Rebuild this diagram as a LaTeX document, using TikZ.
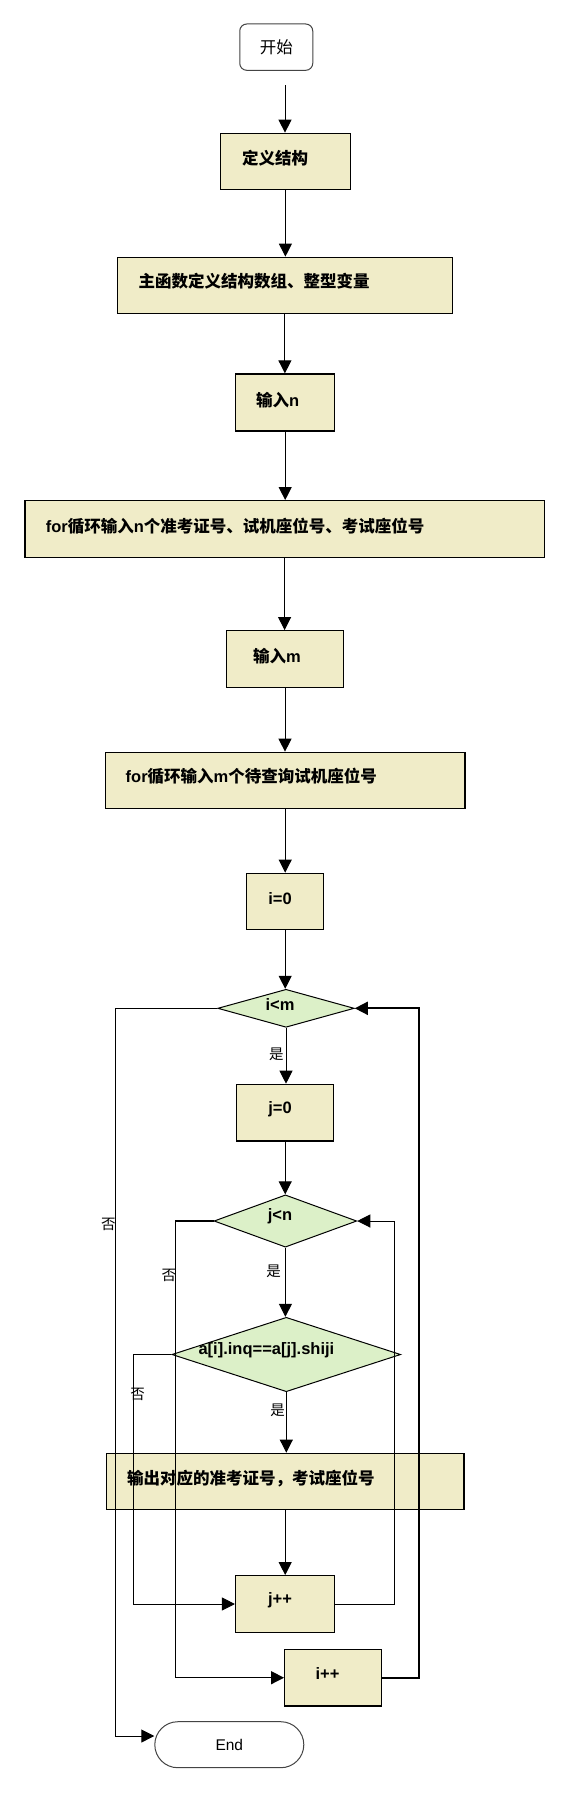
\documentclass[tikz,border=0pt]{standalone}
\usepackage{fontspec}
\setmainfont{Liberation Sans}
\newfontfamily\cjk{Noto Sans CJK SC}
\usetikzlibrary{arrows.meta,shapes.geometric}
\newcommand\zh[1]{{\cjk\bfseries #1}}
\newcommand\lb[1]{{\bfseries #1}}
\definecolor{boxfill}{HTML}{F0ECC8}
\definecolor{decfill}{HTML}{DCF0C8}
\definecolor{termline}{HTML}{444444}
\tikzset{
  procbox/.style={draw=black, line width=1.3pt, fill=boxfill, inner sep=0pt, rectangle},
  decbox/.style={draw=black, line width=1pt, fill=decfill, diamond, inner sep=0pt},
  termbox/.style={draw=termline, line width=1pt, fill=white, inner sep=0pt, rectangle},
  boxtext/.style={inner sep=0pt, font=\fontsize{16.5}{18}\selectfont},
  lbl/.style={inner sep=0pt, font=\fontsize{14.5}{16}\selectfont\cjk},
  flow/.style={draw=black, line width=1pt, -{Triangle[length=13pt,width=13pt]}},
  mid/.style={line width=1.3pt},
  heavy/.style={line width=1.7pt},
}
\begin{document}
\begin{tikzpicture}[x=1pt,y=-1pt]
\useasboundingbox (0,0) rectangle (573,1793);
% terminals
\node[termbox, rounded corners=7pt, minimum width=73pt, minimum height=46.3pt, font=\fontsize{16.5}{18}\selectfont\cjk] (start) at (276.25,47.15) {开始};
\node[termbox, rounded corners=23pt, minimum width=149pt, minimum height=46pt, font=\fontsize{15.5}{17}\selectfont] (end) at (229.3,1744.7) {End};
% process boxes
\node[procbox, minimum width=129.6pt, minimum height=56pt] (def) at (285.4,161.3) {};
\node[procbox, minimum width=334.8pt, minimum height=56pt] (main) at (284.9,285.3) {};
\node[procbox, minimum width=99.2pt, minimum height=57pt] (inn) at (285.2,402.5) {};
\node[procbox, minimum width=519.4pt, minimum height=56.6pt] (forn) at (284.6,529) {};
\node[procbox, minimum width=117pt, minimum height=56.6pt] (inm) at (285,659) {};
\node[procbox, minimum width=359.6pt, minimum height=56pt] (form) at (285.2,780.3) {};
\node[procbox, minimum width=77.2pt, minimum height=56pt] (i0) at (285.2,901.3) {};
\node[procbox, minimum width=97pt, minimum height=56.7pt] (j0) at (285.2,1112.7) {};
\node[procbox, minimum width=357.5pt, minimum height=56pt] (out) at (285.2,1481.3) {};
\node[procbox, minimum width=99.2pt, minimum height=56.6pt] (jpp) at (285.2,1604) {};
\node[procbox, minimum width=96.6pt, minimum height=56.7pt] (ipp) at (333,1677.7) {};
% decisions
\node[decbox, minimum width=136.5pt, minimum height=38pt] (dim) at (286,1008.3) {};
\node[decbox, minimum width=142.7pt, minimum height=52.3pt] (djn) at (285.4,1221) {};
\node[decbox, minimum width=228.7pt, minimum height=74.4pt] (dcmp) at (286.3,1354.5) {};
% texts
\node[boxtext, anchor=west] (tdef) at (242,158.3) {\zh{定义结构}};
\node[boxtext, anchor=west] (tmain) at (138.3,281) {\zh{主函数定义结构数组、整型变量}};
\node[boxtext, anchor=west] (tinn) at (256,400) {\zh{输入}\lb{n}};
\node[boxtext, anchor=west] (tforn) at (45.7,526) {\lb{for}\zh{循环输入}\lb{n}\zh{个准考证号、试机座位号、考试座位号}};
\node[boxtext, anchor=west] (tinm) at (253,655.7) {\zh{输入}\lb{m}};
\node[boxtext, anchor=west] (tform) at (125.5,776.7) {\lb{for}\zh{循环输入}\lb{m}\zh{个待查询试机座位号}};
\node[boxtext] (ti0) at (280,898.3) {\lb{i=0}};
\node[boxtext] (tim) at (280,1004.3) {\lb{i<m}};
\node[boxtext] (tj0) at (280,1109.3) {\lb{j=0}};
\node[boxtext] (tjn) at (280,1216.7) {\lb{j<n}};
\node[boxtext] (tcmp) at (266.4,1350) {\lb{a[i].inq==a[j].shiji}};
\node[boxtext, anchor=west] (tout) at (127,1478.3) {\zh{输出对应的准考证号，考试座位号}};
\node[boxtext] (tjpp) at (280,1600) {\lb{j++}};
\node[boxtext] (tipp) at (327.5,1674) {\lb{i++}};
% main flow
\coordinate (s0) at (285,85);
\draw[flow] (s0) -- (s0 |- def.north);
\draw[flow] (def.south) -- (def.south |- main.north);
\draw[flow] (main.south) -- (main.south |- inn.north);
\draw[flow] (inn.south) -- (inn.south |- forn.north);
\draw[flow] (forn.south) -- (forn.south |- inm.north);
\draw[flow] (inm.south) -- (inm.south |- form.north);
\draw[flow] (form.south) -- (form.south |- i0.north);
\draw[flow] (i0.south) -- (i0.south |- dim.north);
\draw[flow] (dim.south) -- (dim.south |- j0.north);
\draw[flow] (j0.south) -- (j0.south |- djn.north);
\draw[flow] (djn.south) -- (djn.south |- dcmp.north);
\draw[flow] (dcmp.south) -- (dcmp.south |- out.north);
\draw[flow] (out.south) -- (out.south |- jpp.north);
% loops
\draw[flow] (dim.west) -- ++(-101.3,0) |- ([yshift=8.7pt]end.west);
\draw[flow, mid] (djn.west) -- ++(-38.4,0) |- (ipp.west);
\draw[flow] (dcmp.west) -- ++(-38.4,0) |- (jpp.west);
\draw[flow] (jpp.east) -- ++(58.9,0) |- (djn.east);
\draw[flow, heavy] (ipp.east) -- ++(36.9,0) |- (dim.east);
% labels
\node[lbl] (no1) at (108.3,1224) {否};
\node[lbl] (no2) at (168.8,1275.8) {否};
\node[lbl] (no3) at (137.5,1394) {否};
\node[lbl] (yes1) at (276.3,1054) {是};
\node[lbl] (yes2) at (273.7,1270.8) {是};
\node[lbl] (yes3) at (277.5,1410.5) {是};
\end{tikzpicture}
\end{document}
